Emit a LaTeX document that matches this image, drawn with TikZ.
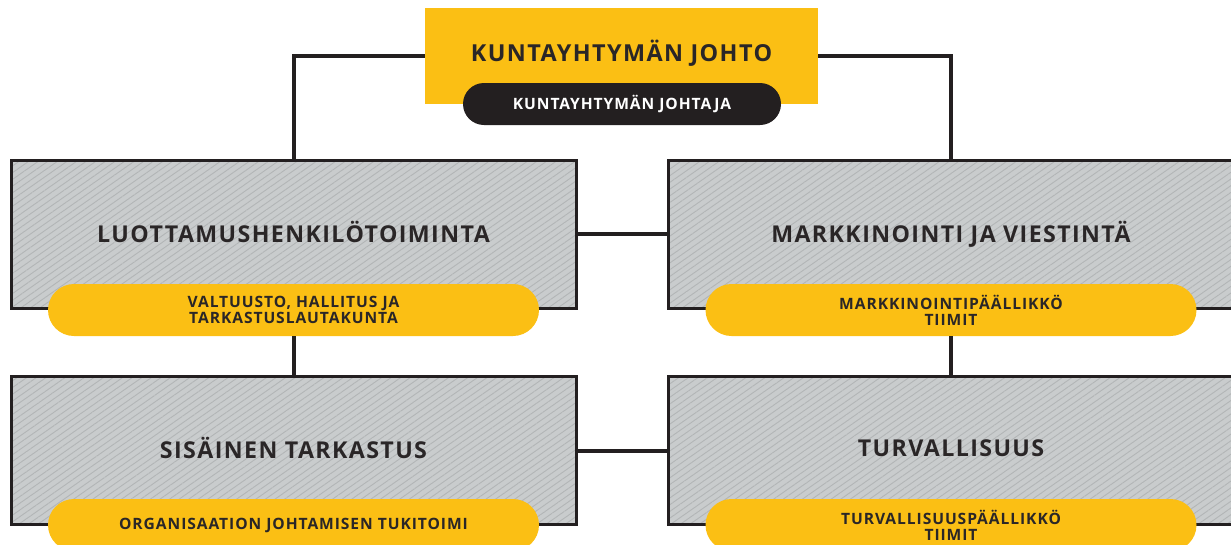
\documentclass[tikz,border=0pt]{standalone}
\usepackage{fontspec}
\setmainfont{Open Sans}[LetterSpace=6]
\usetikzlibrary{patterns.meta}
\definecolor{ylw}{HTML}{FBBF14}
\definecolor{dark}{HTML}{231F20}
\definecolor{boxgray}{HTML}{C9CCCD}
\definecolor{hatch}{HTML}{B2B5B6}
\definecolor{txt}{HTML}{2A2627}
\tikzset{
  unitbox/.style={draw=dark, line width=3pt, preaction={fill=boxgray},
    pattern={Lines[angle=35,distance=5.5pt,line width=0.9pt]}, pattern color=hatch,
    minimum width=565pt, minimum height=148pt, inner sep=0pt,
    font=\fontsize{23.2}{27}\selectfont\bfseries, text=txt},
  pill/.style={fill=ylw, rounded corners=26pt, minimum width=491pt, minimum height=52pt,
    inner sep=0pt, align=center, font=\fontsize{15.6}{16}\selectfont\bfseries, text=txt},
  conn/.style={draw=dark, line width=4pt}
}
\begin{document}
\begin{tikzpicture}[x=1pt,y=-1pt]
\useasboundingbox (0,0) rectangle (1231,544);
\clip (0,0) rectangle (1231,544);
% boxes
\node[unitbox] (L1) at (293.5,234) {\raisebox{5pt}{LUOTTAMUSHENKILÖTOIMINTA}};
\node[unitbox] (R1) at (951,234) {\raisebox{5pt}{MARKKINOINTI JA VIESTINTÄ}};
\node[unitbox] (L2) at (293.5,450.5) {\raisebox{5pt}{SISÄINEN TARKASTUS}};
\node[unitbox] (R2) at (951,450.5) {\raisebox{5pt}{TURVALLISUUS}};
% top
\node[fill=ylw, minimum width=393pt, minimum height=96pt, inner sep=0pt,
  font=\fontsize{23.4}{27}\selectfont\bfseries, text=txt] (top) at (621.5,56) {\raisebox{11pt}{KUNTAYHTYMÄN JOHTO}};
\node[fill=dark, rounded corners=21pt, minimum width=318pt, minimum height=42pt, inner sep=0pt,
  font=\fontsize{15.6}{17}\selectfont\bfseries, text=white] (head) at (622,104) {KUNTAYHTYMÄN JOHTAJA};
% connectors
\draw[conn] (top.west) -| (L1.north);
\draw[conn] (top.east) -| (R1.north);
\draw[conn] (L1.east) -- (R1.west);
\draw[conn] (L2.east) -- (R2.west);
% pills
\node[pill] (P1L) at (293.5,310) {VALTUUSTO, HALLITUS JA\\TARKASTUSLAUTAKUNTA};
\node[pill] (P1R) at (951,310) {MARKKINOINTIPÄÄLLIKKÖ\\TIIMIT};
\node[pill] (P2L) at (293.5,525) {\raisebox{-1pt}{ORGANISAATION JOHTAMISEN TUKITOIMI}};
\node[pill] (P2R) at (951,525) {TURVALLISUUSPÄÄLLIKKÖ\\TIIMIT};
\draw[conn] (P1L.south) -- (L2.north);
\draw[conn] (P1R.south) -- (R2.north);
\end{tikzpicture}
\end{document}
